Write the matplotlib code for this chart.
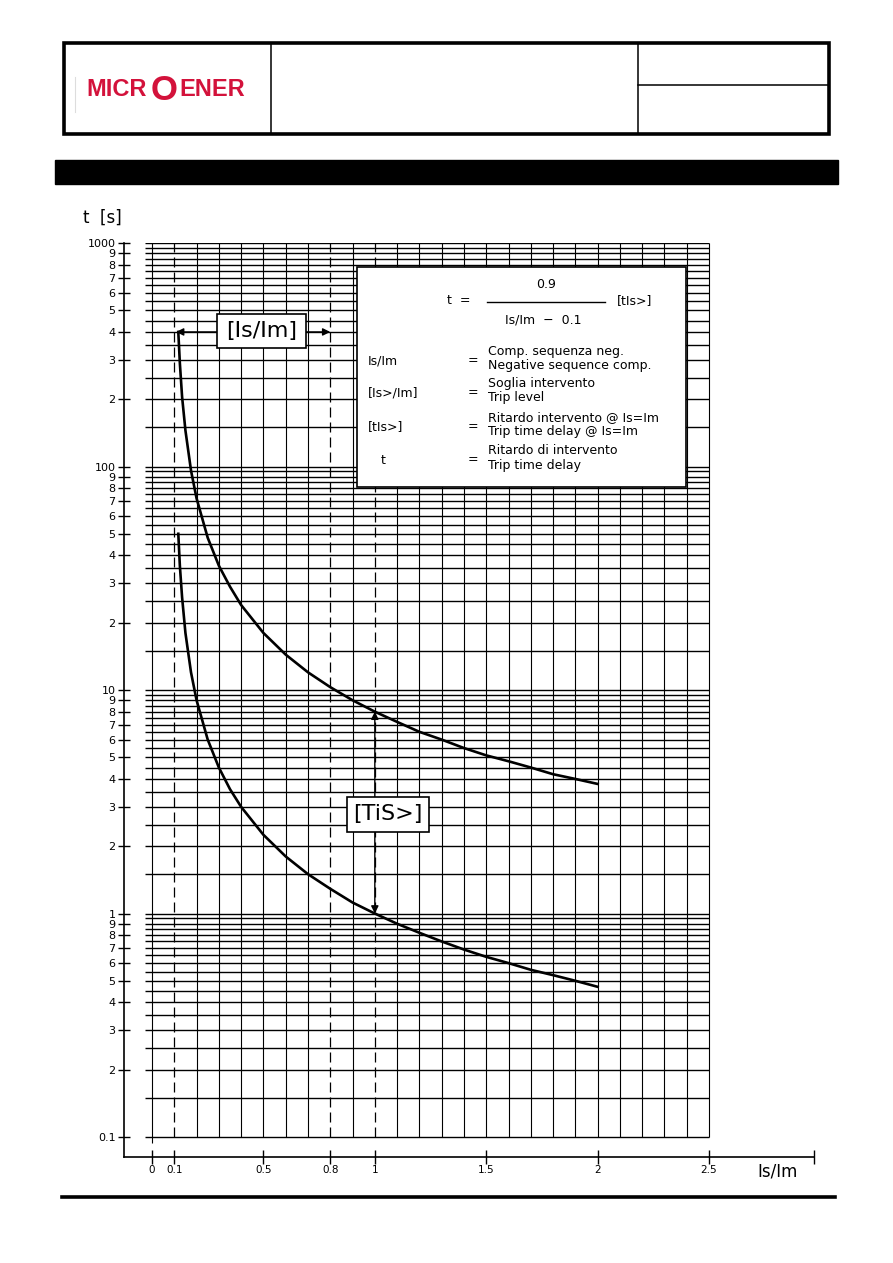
import matplotlib
matplotlib.use('Agg')
import matplotlib.pyplot as plt
from matplotlib.patches import Rectangle
from matplotlib.ticker import NullLocator

W, H = 893, 1263

# curves: Is/Im against trip time t [s]
is_im = [0.118, 0.125, 0.135, 0.15, 0.175, 0.2, 0.25, 0.3, 0.35, 0.4, 0.5, 0.6, 0.7,
         0.8, 0.9, 1.0, 1.1, 1.2, 1.3, 1.4, 1.5, 1.6, 1.7, 1.8, 1.9, 2.0]
t_upper = [400, 290, 205, 145, 96, 72, 48, 36, 29, 24, 18, 14.4, 12,
           10.3, 9.0, 8.0, 7.2, 6.5, 6.0, 5.5, 5.1, 4.8, 4.5, 4.2, 4.0, 3.8]
t_lower = [50, 36, 26, 18, 12, 9.0, 6.0, 4.5, 3.6, 3.0, 2.25, 1.8, 1.5,
           1.29, 1.12, 1.0, 0.9, 0.82, 0.75, 0.69, 0.64, 0.6, 0.56, 0.53, 0.5, 0.47]

# axis ticks
x_ticks = [0, 0.1, 0.5, 0.8, 1, 1.5, 2, 2.5]
x_labels = ['0', '0.1', '0.5', '0.8', '1', '1.5', '2', '2.5']
decades = [0.1, 1, 10, 100]
decade_labels = ['0.1', '1', '10', '100']
grid_mult = [1, 1.5, 2, 2.5, 3, 3.5, 4, 4.5, 5, 5.5, 6, 6.5, 7, 7.5, 8, 8.5, 9, 9.5]
vgrid = [round(0.1 * i, 1) for i in range(26)]
dashed_x = [0.1, 0.8, 1.0]

# annotation anchors
is_arrow_t = 400
is_arrow_tips = [0.108, 0.8]
tis_x = 1.0
tis_tips = [8.0, 1.0]

fig = plt.figure(figsize=(W / 100, H / 100), dpi=100)

# page furniture in pixel coordinates
bg = fig.add_axes([0, 0, 1, 1])
bg.set_xlim(0, W)
bg.set_ylim(H, 0)
bg.axis('off')
bg.add_patch(Rectangle((64, 43), 765, 91, fill=False, lw=2.6, ec='black'))
bg.plot([271, 271], [43, 134], color='black', lw=1.1)
bg.plot([638, 638], [43, 134], color='black', lw=1.1)
bg.plot([638, 829], [85, 85], color='black', lw=1.1)
bg.plot([75, 75], [77, 112], color='#dddddd', lw=0.8)
red = '#d3123b'
logo_font = ['Liberation Sans Narrow', 'Liberation Sans', 'DejaVu Sans']
bg.text(86, 90, 'MICR', color=red, fontsize=17, fontweight='bold',
        family=logo_font, ha='left', va='center')
bg.text(164, 90, 'O', color=red, fontsize=25, fontweight='bold',
        family=logo_font, ha='center', va='center')
bg.text(179, 90, 'ENER', color=red, fontsize=17, fontweight='bold',
        family=logo_font, ha='left', va='center')
bg.add_patch(Rectangle((55, 160), 783, 24, color='black'))
bg.plot([62, 835], [1197, 1197], color='black', lw=2.6)
bg.text(83, 218, 't  [s]', fontsize=12, ha='left', va='center')
bg.text(757, 1172, 'Is/Im', fontsize=12, ha='left', va='center')

# chart
ax = fig.add_axes([124 / W, (H - 1157) / H, 690 / W, 914 / H])
ax.patch.set_alpha(0)
ax.set_yscale('log')
ax.set_xlim(-0.1257, 2.971)
ax.set_ylim(0.0814, 1000)
for s in ['top', 'right']:
    ax.spines[s].set_visible(False)
for s in ['left', 'bottom']:
    ax.spines[s].set_linewidth(1.2)

yt, yl = [], []
for d, lab in zip(decades, decade_labels):
    yt.append(d)
    yl.append(lab)
    for m in range(2, 10):
        yt.append(d * m)
        yl.append(str(m))
yt.append(1000)
yl.append('1000')
ax.set_yticks(yt)
ax.set_yticklabels(yl)
ax.yaxis.set_minor_locator(NullLocator())
ax.set_xticks(x_ticks + [2.971])
ax.set_xticklabels(x_labels + [''])
ax.tick_params(axis='y', direction='inout', length=8, width=1, pad=2, labelsize=8)
ax.tick_params(axis='x', direction='inout', length=10, width=1, pad=1, labelsize=7.5)
for lab in ax.get_xticklabels():
    lab.set_family(['Liberation Sans Narrow', 'DejaVu Sans'])

# grid
hlines = [d * m for d in decades for m in grid_mult] + [1000]
ax.hlines(hlines, -0.03, 2.5, color='black', lw=1.0, zorder=1)
for x in vgrid:
    if x in dashed_x:
        ax.vlines(x, 0.1, 1000, color='black', lw=0.9, linestyles=(0, (8, 4)), zorder=1)
    else:
        ax.vlines(x, 0.094 if x == 0 else 0.1, 1000, color='black', lw=0.8, zorder=1)

# curves
ax.plot(is_im, t_upper, color='black', lw=1.9, zorder=3)
ax.plot(is_im, t_lower, color='black', lw=1.9, zorder=3)


def fr(px, py):
    return ((px - 124) / 690, (1157 - py) / 914)


# [Is/Im] label with arrows
for tip, start in zip(is_arrow_tips, [0.292, 0.691]):
    ax.annotate('', xy=(tip, is_arrow_t), xytext=(start, is_arrow_t),
                arrowprops=dict(arrowstyle='-|>', color='black', lw=1.0,
                                mutation_scale=11, shrinkA=0, shrinkB=0), zorder=4)
x0, y0 = fr(217, 348)
x1, y1 = fr(306, 314)
ax.add_patch(Rectangle((x0, y0), x1 - x0, y1 - y0, transform=ax.transAxes,
                       fc='white', ec='black', lw=1.2, zorder=5))
ax.text(*fr(261.5, 331), '[Is/Im]', transform=ax.transAxes, fontsize=16,
        ha='center', va='center', zorder=6)

# [TiS>] label with arrows
for tip, start in zip(tis_tips, [3.3, 2.33]):
    ax.annotate('', xy=(tis_x, tip), xytext=(tis_x, start),
                arrowprops=dict(arrowstyle='-|>', color='black', lw=1.0,
                                mutation_scale=11, shrinkA=0, shrinkB=0), zorder=4)
x0, y0 = fr(347, 832)
x1, y1 = fr(429, 797)
ax.add_patch(Rectangle((x0, y0), x1 - x0, y1 - y0, transform=ax.transAxes,
                       fc='white', ec='black', lw=1.2, zorder=5))
ax.text(*fr(388, 814), '[TiS>]', transform=ax.transAxes, fontsize=16,
        ha='center', va='center', zorder=6)

# legend box
x0, y0 = fr(357, 487)
x1, y1 = fr(686, 267)
ax.add_patch(Rectangle((x0, y0), x1 - x0, y1 - y0, transform=ax.transAxes,
                       fc='white', ec='black', lw=1.2, zorder=5))
fs = 9


def lt(px, py, s, ha='left'):
    ax.text(*fr(px, py), s, transform=ax.transAxes, fontsize=fs,
            ha=ha, va='center', zorder=6)


lt(546, 285, '0.9', ha='center')
xa, ya = fr(487, 302)
xb, _ = fr(605, 302)
ax.plot([xa, xb], [ya, ya], color='black', lw=1.0, transform=ax.transAxes, zorder=6)
lt(447, 301, 't  =')
lt(543, 320, 'Is/Im  \u2212  0.1', ha='center')
lt(617, 301, '[tIs>]')

rows = [
    (359, 'Is/Im', 'Comp. sequenza neg.', 'Negative sequence comp.', 368),
    (391, '[Is>/Im]', 'Soglia intervento', 'Trip level', 368),
    (425, '[tIs>]', 'Ritardo intervento @ Is=Im', 'Trip time delay @ Is=Im', 368),
    (458, 't', 'Ritardo di intervento', 'Trip time delay', 381),
]
for y, key, it, en, kx in rows:
    lt(kx, y + 2, key)
    lt(468, y + 2, '=')
    lt(488, y - 7, it)
    lt(488, y + 7, en)

fig.savefig('out.png', dpi=100)
